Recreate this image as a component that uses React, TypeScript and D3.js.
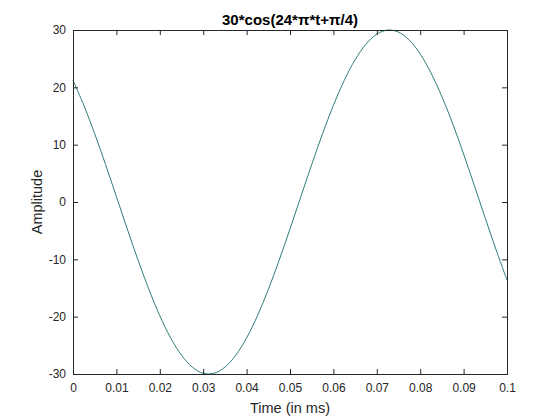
import React, { useEffect, useRef } from 'react';
import * as d3 from 'd3';

// time samples (ms) and amplitude
const times = [
  0, 0.0025, 0.005, 0.0075, 0.01, 0.0125, 0.015, 0.0175, 0.02, 0.0225,
  0.025, 0.0275, 0.03, 0.0325, 0.035, 0.0375, 0.04, 0.0425, 0.045, 0.0475,
  0.05, 0.0525, 0.055, 0.0575, 0.06, 0.0625, 0.065, 0.0675, 0.07, 0.0725,
  0.075, 0.0775, 0.08, 0.0825, 0.085, 0.0875, 0.09, 0.0925, 0.095, 0.0975, 0.1,
];
const amplitude = [
  21.21, 16.86, 11.91, 6.54, 0.94, -4.69, -10.16, -15.27, -19.84, -23.71,
  -26.73, -28.81, -29.87, -29.87, -28.81, -26.73, -23.71, -19.84, -15.27, -10.16,
  -4.69, 0.94, 6.54, 11.91, 16.86, 21.21, 24.81, 27.53, 29.28, 29.99,
  29.63, 28.23, 25.82, 22.5, 18.39, 13.62, 8.37, 2.82, -2.82, -8.37, -13.62,
];
const xTicks = [0, 0.01, 0.02, 0.03, 0.04, 0.05, 0.06, 0.07, 0.08, 0.09, 0.1];
const yTicks = [-30, -20, -10, 0, 10, 20, 30];

const W = 560;
const H = 420;
const margin = { top: 30, right: 53, bottom: 46, left: 73 };

export default function App() {
  const svgRef = useRef<SVGSVGElement>(null);

  useEffect(() => {
    document.body.style.margin = '0';
    if (!svgRef.current) return;
    const svg = d3.select(svgRef.current);
    svg.selectAll('*').remove();

    const iw = W - margin.left - margin.right;
    const ih = H - margin.top - margin.bottom;
    const x = d3.scaleLinear().domain([0, 0.1]).range([0, iw]);
    const y = d3.scaleLinear().domain([-30, 30]).range([ih, 0]);

    svg.append('rect').attr('width', W).attr('height', H).attr('fill', '#fff');

    const g = svg.append('g').attr('transform', `translate(${margin.left},${margin.top})`);
    const font = 'Liberation Sans, Arial, Helvetica, sans-serif';
    const ink = '#262626';

    const pts = times.map((t, i) => [t, amplitude[i]] as [number, number]);
    const line = d3.line<[number, number]>()
      .x(d => x(d[0]))
      .y(d => y(d[1]))
      .curve(d3.curveCatmullRom.alpha(0.5));

    g.append('path')
      .datum(pts)
      .attr('d', line)
      .attr('fill', 'none')
      .attr('stroke', '#2f7d7d')
      .attr('stroke-width', 1);

    const tl = 5;
    // bottom & top ticks (inward)
    const bottom = g.append('g').attr('transform', `translate(0,${ih})`)
      .call(d3.axisBottom(x).tickValues(xTicks).tickSize(-tl).tickPadding(9)
        .tickFormat(d => String(+d)));
    const top = g.append('g')
      .call(d3.axisTop(x).tickValues(xTicks).tickSize(-tl).tickFormat(() => ''));
    const left = g.append('g')
      .call(d3.axisLeft(y).tickValues(yTicks).tickSize(-tl).tickPadding(7)
        .tickFormat(d => String(d)));
    const right = g.append('g').attr('transform', `translate(${iw},0)`)
      .call(d3.axisRight(y).tickValues(yTicks).tickSize(-tl).tickFormat(() => ''));

    [bottom, top, left, right].forEach(a => {
      a.select('.domain').attr('stroke', ink).attr('stroke-width', 1);
      a.selectAll('.tick line').attr('stroke', ink);
      a.selectAll('text').attr('fill', ink).style('font-family', font).style('font-size', '12px');
    });

    svg.append('text')
      .attr('x', margin.left + iw / 2)
      .attr('y', 25)
      .attr('text-anchor', 'middle')
      .style('font-family', font)
      .style('font-size', '15px')
      .style('font-weight', 'bold')
      .attr('fill', '#000')
      .text('30*cos(24*π*t+π/4)');

    svg.append('text')
      .attr('x', margin.left + iw / 2)
      .attr('y', 413)
      .attr('text-anchor', 'middle')
      .style('font-family', font)
      .style('font-size', '14.5px')
      .attr('fill', ink)
      .text('Time (in ms)');

    svg.append('text')
      .attr('transform', `translate(42,${margin.top + ih / 2}) rotate(-90)`)
      .attr('text-anchor', 'middle')
      .style('font-family', font)
      .style('font-size', '14.5px')
      .attr('fill', ink)
      .text('Amplitude');
  }, []);

  return <svg ref={svgRef} width={W} height={H} style={{ display: 'block' }} />;
}
